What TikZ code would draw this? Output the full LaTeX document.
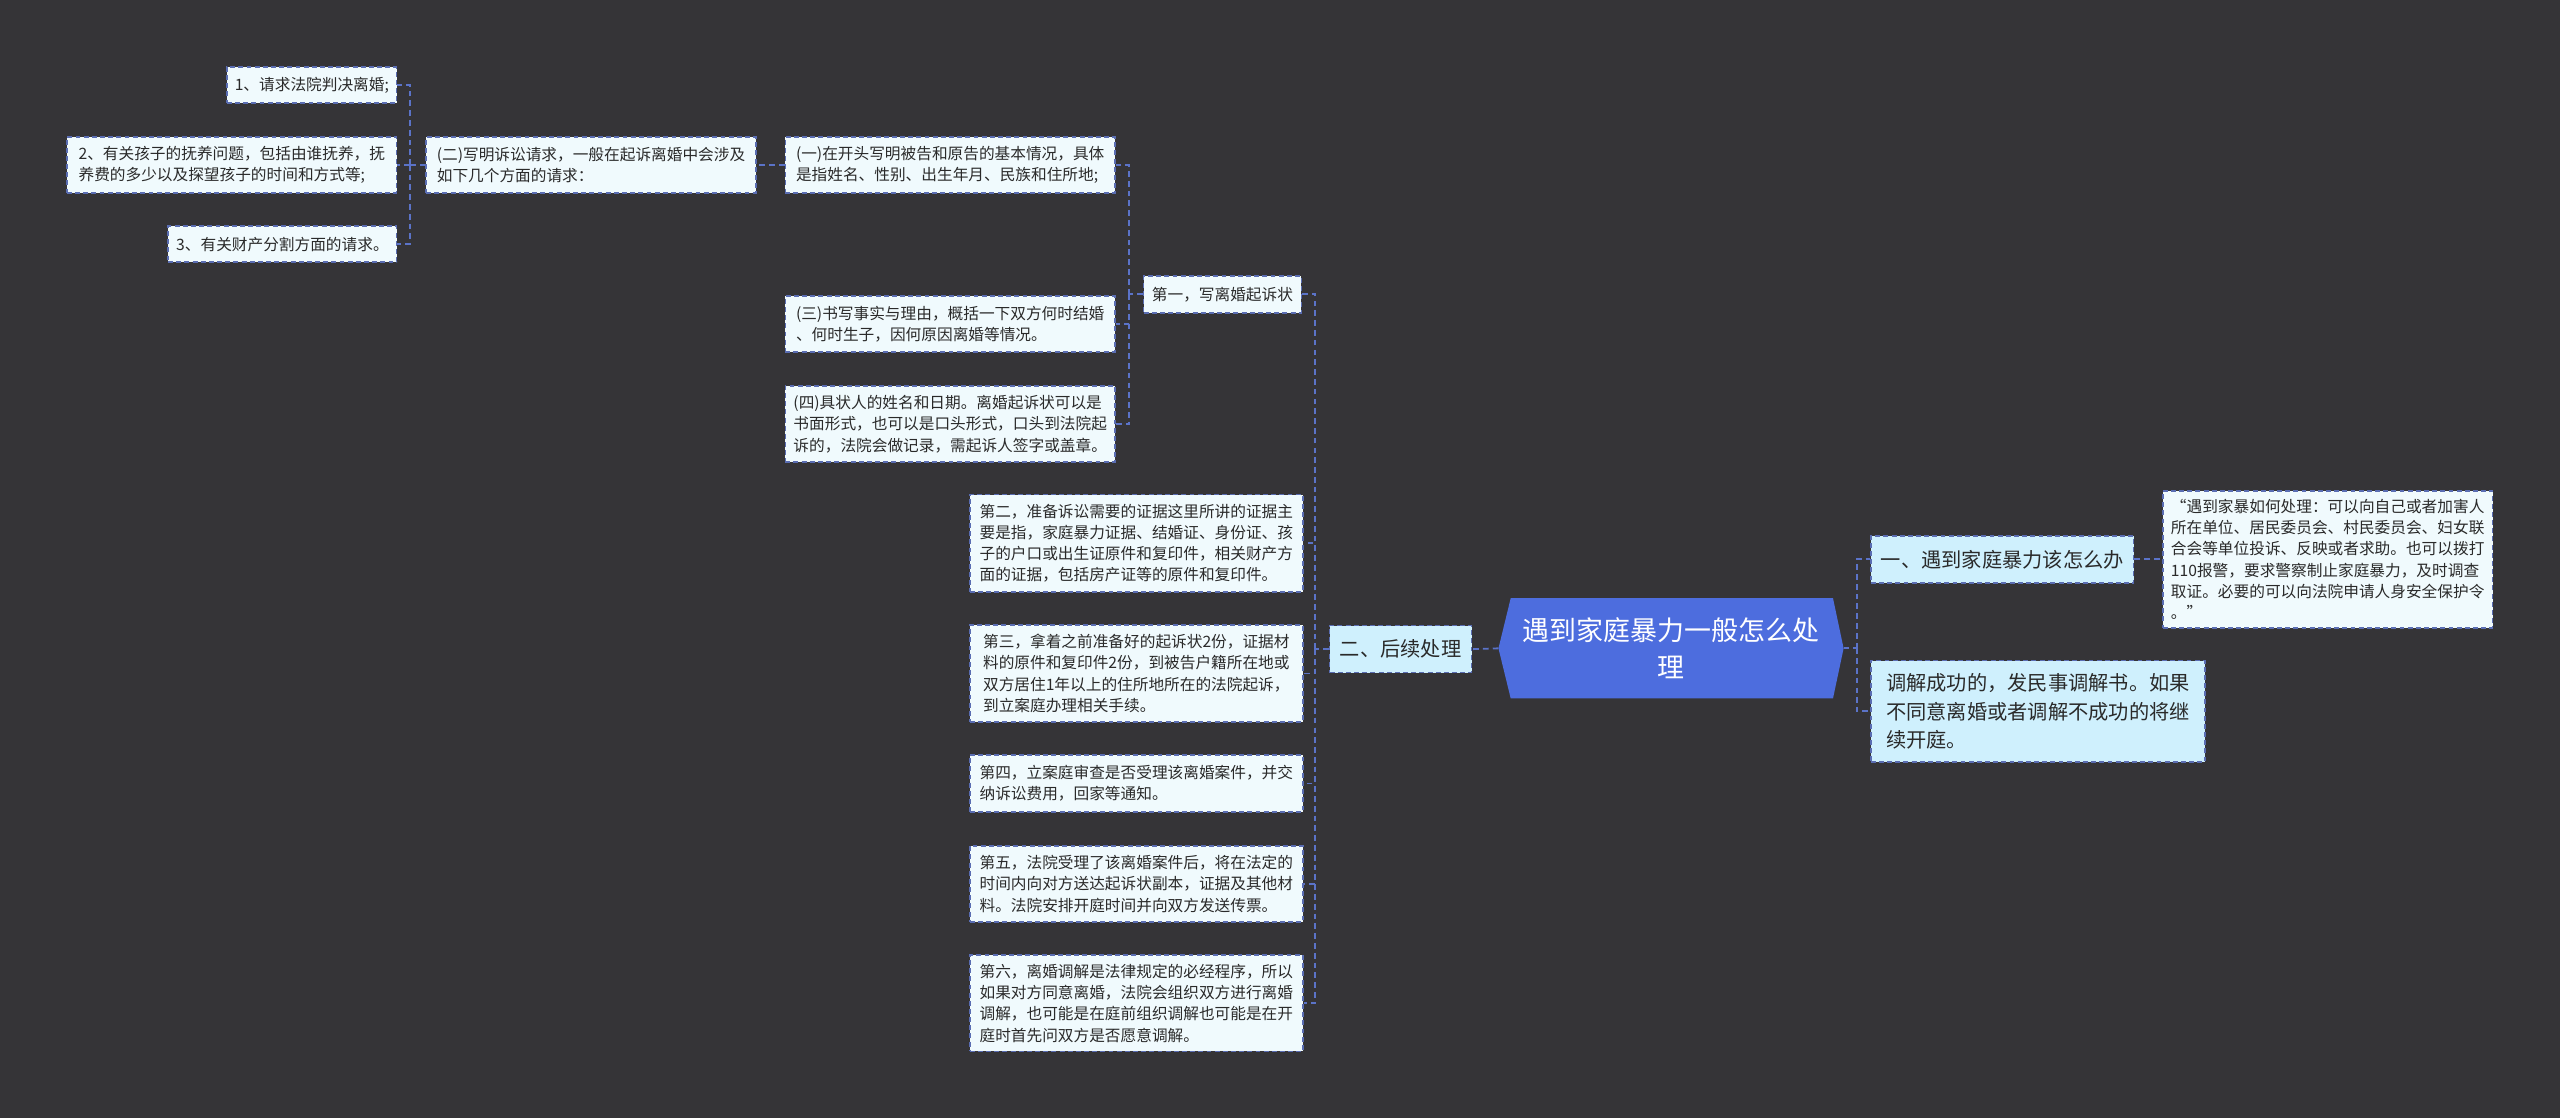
\documentclass[tikz,border=0pt]{standalone}
\usepackage{fontspec}
\newfontfamily\cjk{Noto Sans CJK SC}
\usetikzlibrary{calc}
\pgfdeclarelayer{background}
\pgfsetlayers{background,main}
\definecolor{bgc}{HTML}{353437}
\definecolor{linec}{HTML}{5B73C8}
\definecolor{boxc}{HTML}{5A6DB2}
\definecolor{leaff}{HTML}{F0FAFD}
\definecolor{lvf}{HTML}{CFF0FD}
\definecolor{hexf}{HTML}{4D6DDE}
\definecolor{txt}{HTML}{2A2A2A}
\tikzset{
  box/.style={draw=boxc, dash pattern=on 3pt off 2pt, line width=0.9pt, rectangle, inner sep=0pt, align=left, text=txt},
  leaf/.style={box, fill=leaff, font=\cjk\fontsize{9.6}{13}\selectfont},
  lvone/.style={box, fill=lvf, font=\cjk\fontsize{12.4}{17.5}\selectfont},
  sz/.style 2 args={minimum width=#1pt, minimum height=#2pt},
  conn/.style={draw=linec, line width=1.1pt, dash pattern=on 3.5pt off 2.5pt},
  hexnode/.style={inner sep=0pt, align=center, text=white, font=\cjk\fontsize{16.5}{22.5}\selectfont},
}
\begin{document}
\begin{tikzpicture}[x=1pt,y=-1pt]
\begin{pgfonlayer}{background}
\path[use as bounding box, fill=bgc] (0,0) rectangle (1568,685);
\end{pgfonlayer}

% center
\node[hexnode, sz={211}{61}] (c) at (1023.5,397.1) {遇到家庭暴力一般怎么处\\理};
\begin{pgfonlayer}{background}
\fill[hexf] ($(c.north west)+(7.5,0)$) -- ($(c.north east)+(-6.5,0)$) -- (c.east) -- ($(c.south east)+(-6.5,0)$) -- ($(c.south west)+(7.5,0)$) -- (c.west) -- cycle;
\end{pgfonlayer}

% right side
\node[lvone, sz={161}{28.7}] (r1) at (1226.4,342.6) {一、遇到家庭暴力该怎么办};
\node[leaf, sz={202}{84}] (q) at (1425.7,342.6) {“遇到家暴如何处理：可以向自己或者加害人\\所在单位、居民委员会、村民委员会、妇女联\\合会等单位投诉、反映或者求助。也可以拨打\\110报警，要求警察制止家庭暴力，及时调查\\取证。必要的可以向法院申请人身安全保护令\\。”};
\node[lvone, sz={204.7}{62}] (r2) at (1248.2,435.7) {调解成功的，发民事调解书。如果\\不同意离婚或者调解不成功的将继\\续开庭。};

% left level 1
\node[lvone, sz={87}{28.8}] (h) at (857.9,397.6) {二、后续处理};

% steps
\node[leaf, sz={96.5}{22.7}] (d1) at (748.75,180.3) {第一，写离婚起诉状};
\node[leaf, sz={204}{59.6}] (d2) at (696,332.8) {第二，准备诉讼需要的证据这里所讲的证据主\\要是指，家庭暴力证据、结婚证、身份证、孩\\子的户口或出生证原件和复印件，相关财产方\\面的证据，包括房产证等的原件和复印件。};
\node[leaf, sz={204}{59.4}] (d3) at (696,412.5) {第三，拿着之前准备好的起诉状2份，证据材\\料的原件和复印件2份，到被告户籍所在地或\\双方居住1年以上的住所地所在的法院起诉，\\到立案庭办理相关手续。};
\node[leaf, sz={204}{35}] (d4) at (696,479.9) {第四，立案庭审查是否受理该离婚案件，并交\\纳诉讼费用，回家等通知。};
\node[leaf, sz={204}{46.7}] (d5) at (696,541.4) {第五，法院受理了该离婚案件后，将在法定的\\时间内向对方送达起诉状副本，证据及其他材\\料。法院安排开庭时间并向双方发送传票。};
\node[leaf, sz={204}{59}] (d6) at (696,614.5) {第六，离婚调解是法律规定的必经程序，所以\\如果对方同意离婚，法院会组织双方进行离婚\\调解，也可能是在庭前组织调解也可能是在开\\庭时首先问双方是否愿意调解。};

% first step children
\node[leaf, sz={202}{34.3}] (a1) at (582,101) {(一)在开头写明被告和原告的基本情况，具体\\是指姓名、性别、出生年月、民族和住所地;};
\node[leaf, sz={202}{34.3}] (a3) at (582,198.5) {(三)书写事实与理由，概括一下双方何时结婚\\、何时生子，因何原因离婚等情况。};
\node[leaf, sz={202}{46.6}] (a4) at (582,259.7) {(四)具状人的姓名和日期。离婚起诉状可以是\\书面形式，也可以是口头形式，口头到法院起\\诉的，法院会做记录，需起诉人签字或盖章。};
\node[leaf, sz={202}{34.3}] (a2) at (362,101) {(二)写明诉讼请求，一般在起诉离婚中会涉及\\如下几个方面的请求：};

% requests
\node[leaf, sz={104}{22}] (b1) at (191,52) {1、请求法院判决离婚;};
\node[leaf, sz={202}{34.3}] (b2) at (142,101) {2、有关孩子的抚养问题，包括由谁抚养，抚\\养费的多少以及探望孩子的时间和方式等;};
\node[leaf, sz={140}{22}] (b3) at (173,149.5) {3、有关财产分割方面的请求。};

% connectors
\draw[conn] (c.west) -- (h.east);
\draw[conn] (h.west) -- ++(-8.4,0) coordinate (j1);
\foreach \k in {d1,d2,d3,d4,d5,d6} \draw[conn] (j1) |- (\k.east);
\draw[conn] (d1.west) -- ++(-8.5,0) coordinate (j2);
\foreach \k in {a1,a3,a4} \draw[conn] (j2) |- (\k.east);
\draw[conn] (a1.west) -- (a2.east);
\draw[conn] (a2.west) -- ++(-9.5,0) coordinate (j3);
\foreach \k in {b1,b2,b3} \draw[conn] (j3) |- (\k.east);
\draw[conn] (c.east) -- ++(8,0) coordinate (j4);
\foreach \k in {r1,r2} \draw[conn] (j4) |- (\k.west);
\draw[conn] (r1.east) -- (q.west);
\end{tikzpicture}
\end{document}
